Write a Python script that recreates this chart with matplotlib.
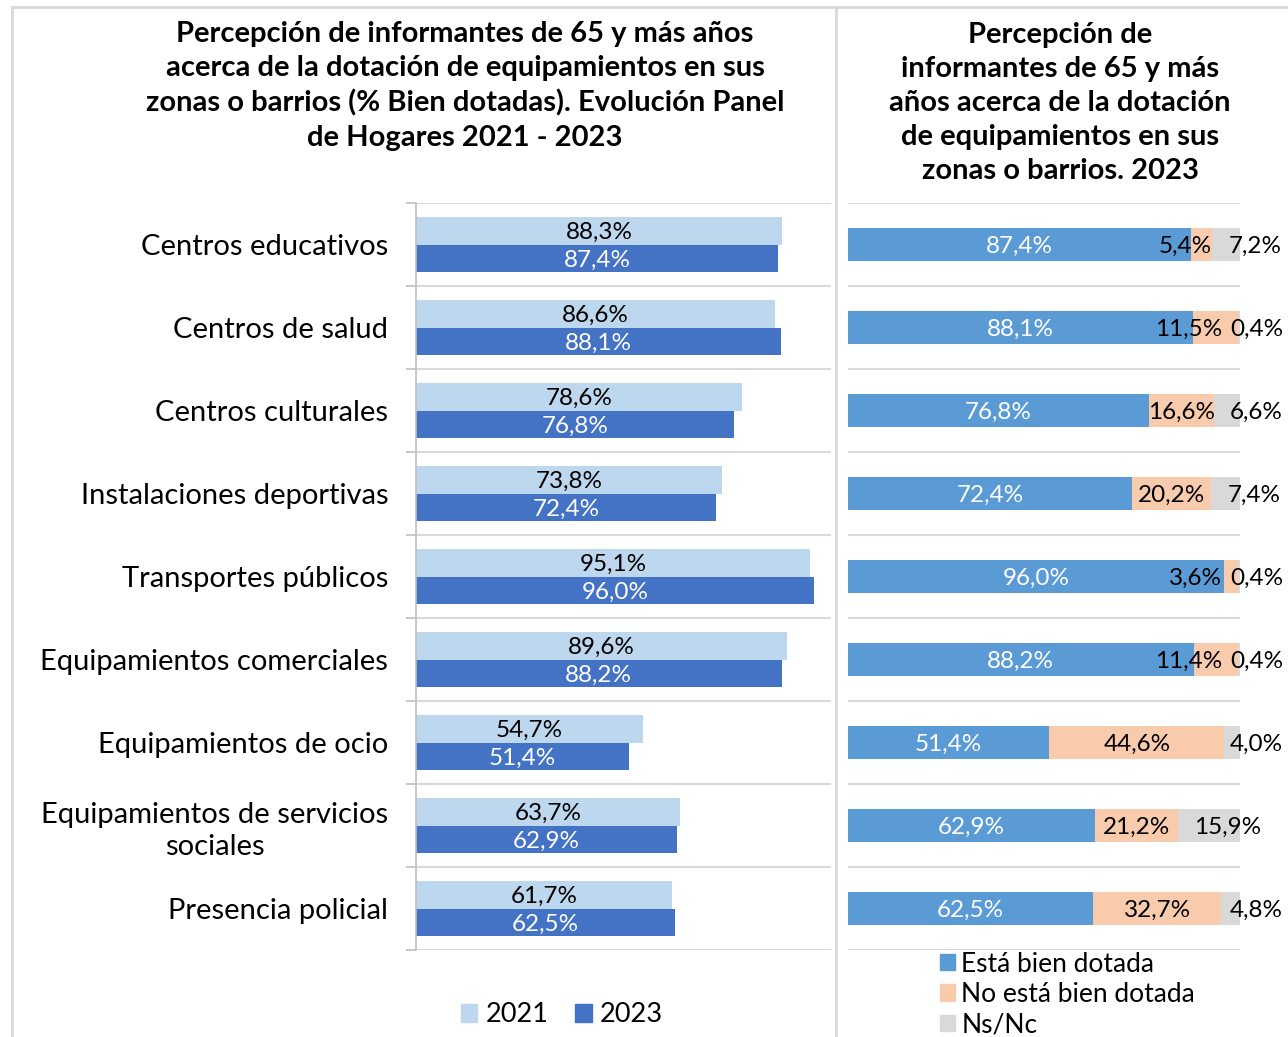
import matplotlib.pyplot as plt
from matplotlib.lines import Line2D
from matplotlib.patches import Patch

plt.rcParams['font.family'] = ['Lato', 'DejaVu Sans']

categorias = ["Centros educativos", "Centros de salud", "Centros culturales",
              "Instalaciones deportivas", "Transportes públicos",
              "Equipamientos comerciales", "Equipamientos de ocio",
              "Equipamientos de servicios\nsociales", "Presencia policial"]
v2021 = [88.3, 86.6, 78.6, 73.8, 95.1, 89.6, 54.7, 63.7, 61.7]
v2023 = [87.4, 88.1, 76.8, 72.4, 96.0, 88.2, 51.4, 62.9, 62.5]

bien = [87.4, 88.1, 76.8, 72.4, 96.0, 88.2, 51.4, 62.9, 62.5]
no_bien = [5.4, 11.5, 16.6, 20.2, 3.6, 11.4, 44.6, 21.2, 32.7]
nsnc = [7.2, 0.4, 6.6, 7.4, 0.4, 0.4, 4.0, 15.9, 4.8]

c2021 = '#BDD7EE'
c2023 = '#4472C4'
c_bien = '#5B9BD5'
c_no = '#F8CBAD'
c_ns = '#D9D9D9'
gris = '#D9D9D9'

W, H = 1288, 1037
fig = plt.figure(figsize=(W / 100, H / 100), dpi=100)


def fx(px):
    return px / W


def fy(py):
    return 1 - py / H


def pct(v):
    return f"{v:.1f}%".replace('.', ',')


n = len(categorias)
pos = list(range(n))
bounds = [i - 0.5 for i in range(n + 1)]
fs_val = 17.5

# ---- panel izquierdo
ax = fig.add_axes([fx(416), fy(950), fx(830.5) - fx(416), fy(203) - fy(950)])
h = 0.337
ax.barh([p - h / 2 for p in pos], v2021, height=h, color=c2021)
ax.barh([p + h / 2 for p in pos], v2023, height=h, color=c2023)
for i in range(n):
    ax.text(v2021[i] / 2, i - h / 2 + 0.02, pct(v2021[i]), ha='center',
            va='center', fontsize=fs_val, color='black')
    ax.text(v2023[i] / 2, i + h / 2 + 0.02, pct(v2023[i]), ha='center',
            va='center', fontsize=fs_val, color='white')
ax.set_xlim(0, 100)
ax.set_ylim(n - 0.5, -0.5)
ax.set_xticks([])
ax.set_yticks(pos)
ax.set_yticklabels(categorias, fontsize=21, multialignment='center',
                   linespacing=1.3)
ax.tick_params(axis='y', which='major', length=0, pad=20)
ax.set_yticks(bounds, minor=True)
ax.tick_params(axis='y', which='minor', length=7, width=1.2, color='#BFBFBF',
               direction='out')
ax.grid(axis='y', which='minor', color=gris, linewidth=1.5)
for s in ['top', 'right', 'bottom']:
    ax.spines[s].set_visible(False)
ax.spines['left'].set_color('#BFBFBF')
ax.spines['left'].set_linewidth(1.2)
ax.set_axisbelow(True)

# ---- panel derecho
ax2 = fig.add_axes([fx(848), fy(950), fx(1240) - fx(848), fy(203) - fy(950)])
hb = 0.4
ax2.barh(pos, bien, height=hb, color=c_bien)
ax2.barh(pos, no_bien, left=bien, height=hb, color=c_no)
left_ns = [b + m for b, m in zip(bien, no_bien)]
ax2.barh(pos, nsnc, left=left_ns, height=hb, color=c_ns)
for i in range(n):
    yl = i + 0.02
    ax2.text(bien[i] / 2, yl, pct(bien[i]), ha='center', va='center',
             fontsize=fs_val, color='white')
    if no_bien[i] < 15:
        ax2.text(min(left_ns[i], 95.5), yl, pct(no_bien[i]), ha='right',
                 va='center', fontsize=fs_val, color='black')
    else:
        ax2.text(bien[i] + no_bien[i] / 2, yl, pct(no_bien[i]), ha='center',
                 va='center', fontsize=fs_val, color='black')
    ax2.text(min(left_ns[i] + 4.3, 97.5), yl, pct(nsnc[i]), ha='left',
             va='center', fontsize=fs_val, color='black')
ax2.set_xlim(0, 100)
ax2.set_ylim(n - 0.5, -0.5)
ax2.set_xticks([])
ax2.set_yticks([])
ax2.set_yticks(bounds, minor=True)
ax2.tick_params(axis='y', which='minor', length=0)
ax2.grid(axis='y', which='minor', color=gris, linewidth=1.5)
for s in ax2.spines.values():
    s.set_visible(False)
ax2.set_axisbelow(True)

# ---- títulos
fig.text(fx(465), fy(86), "Percepción de informantes de 65 y más años\n"
         "acerca de la dotación de equipamientos en sus\n"
         "zonas o barrios (% Bien dotadas). Evolución Panel\n"
         "de Hogares 2021 - 2023", ha='center', va='center',
         fontsize=21, fontweight='bold', linespacing=1.38)
fig.text(fx(1060), fy(103), "Percepción de\ninformantes de 65 y más\n"
         "años acerca de la dotación\nde equipamientos en sus\n"
         "zonas o barrios. 2023", ha='center', va='center',
         fontsize=21, fontweight='bold', linespacing=1.38)

# ---- leyendas
fig.legend(handles=[Patch(color=c2021, label='2021'),
                    Patch(color=c2023, label='2023')],
           loc='center', bbox_to_anchor=(fx(562), fy(1015)), ncol=2,
           frameon=False, fontsize=19.5, handlelength=0.6,
           handleheight=0.6, handletextpad=0.3, columnspacing=1.0)
fig.legend(handles=[Patch(color=c_bien, label='Está bien dotada'),
                    Patch(color=c_no, label='No está bien dotada'),
                    Patch(color=c_ns, label='Ns/Nc')],
           loc='upper left', bbox_to_anchor=(fx(929), fy(941)), ncol=1,
           frameon=False, fontsize=19, handlelength=0.58,
           handleheight=0.58, handletextpad=0.25, labelspacing=0.2,
           borderaxespad=0)

# ---- marcos
fig.add_artist(Line2D([fx(12), fx(1288)], [fy(7), fy(7)], color=gris, lw=2))
fig.add_artist(Line2D([fx(12), fx(12)], [fy(7), 0], color=gris, lw=2))
fig.add_artist(Line2D([fx(836), fx(836)], [fy(8), 0], color=gris, lw=2))

fig.savefig('out.png', dpi=100, facecolor='white')
